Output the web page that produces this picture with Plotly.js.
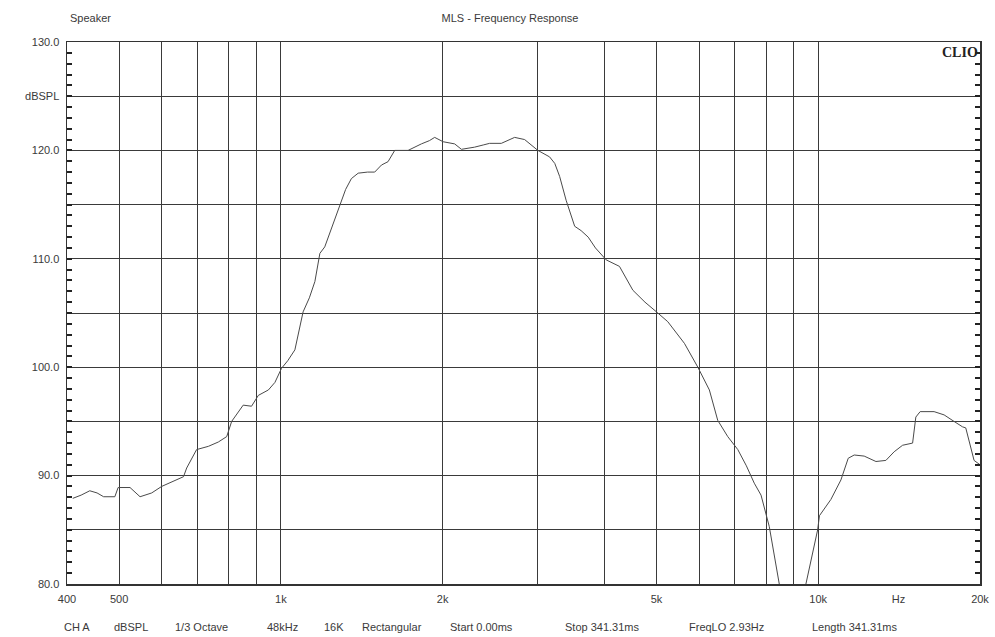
<!DOCTYPE html>
<html>
<head>
<meta charset="utf-8">
<script src="https://cdn.plot.ly/plotly-3.0.1.min.js"></script>
<style>html,body{margin:0;padding:0;background:#fff;}#chart{width:995px;height:637px;}</style>
</head>
<body>
<div id="chart"></div>
<script>
// Frequency (Hz) and level (dBSPL)
var freq = [410,425,441,455,468,491,498,524,547,575,600,626,659,668,697,733,765,793,810,851,882,908,948,975,1003,1030,1062,1100,1130,1157,1182,1207,1242,1287,1320,1353,1393,1450,1495,1539,1583,1629,1725,1826,1890,1933,2004,2106,2168,2230,2294,2380,2446,2572,2650,2723,2842,3008,3163,3234,3302,3395,3522,3620,3732,3850,4031,4267,4519,4760,5029,5248,5636,5970,6272,6501,6786,7085,7350,7603,7826,8108,8463,8800,9200,9486,9975,10052,10558,11021,11371,11667,12176,12806,13363,13845,14354,14983,15193,15476,16428,17150,17893,18555,18816,19498,20000];
var spl  = [87.9,88.2,88.6,88.4,88.05,88.05,88.9,88.9,88.05,88.4,89.0,89.4,89.9,90.7,92.4,92.7,93.1,93.6,95.0,96.5,96.4,97.4,97.9,98.6,99.9,100.6,101.6,105.1,106.4,107.9,110.5,111.1,112.8,115.0,116.4,117.4,117.9,118.0,118.0,118.65,118.96,120.0,120.0,120.6,120.9,121.2,120.8,120.6,120.1,120.2,120.3,120.5,120.65,120.65,120.9,121.2,121.0,120.0,119.4,118.8,117.6,115.4,113.0,112.6,112.0,111.0,109.9,109.3,107.1,106.0,105.0,104.2,102.2,100.0,97.9,95.1,93.6,92.4,90.9,89.3,88.2,85.3,80.0,76.0,76.0,80.0,85.0,86.3,87.8,89.6,91.6,91.9,91.8,91.3,91.4,92.2,92.8,93.0,95.4,95.9,95.9,95.6,95.0,94.5,94.4,91.4,91.0];

// Axis labels and grid positions
var xTickVals = [400,500,1000,2000,5000,10000,14100,20000];
var xTickText = ['400','500','1k','2k','5k','10k','Hz','20k'];
var xGridVals = [500,600,700,800,900,1000,2000,3000,4000,5000,6000,7000,8000,9000,10000];
var yTickVals = [80,85,90,95,100,105,110,115,120,125,130];
var yTickText = ['80.0','','90.0','','100.0','','110.0','','120.0','dBSPL','130.0'];
var yMinorVals = [81,82,83,84,86,87,88,89,91,92,93,94,96,97,98,99,101,102,103,104,106,107,108,109,111,112,113,114,116,117,118,119,121,122,123,124,126,127,128,129];
var yRange = [80,130];

var footerText = ['CH A','dBSPL','1/3 Octave','48kHz','16K','Rectangular','Start 0.00ms','Stop 341.31ms','FreqLO 2.93Hz','Length 341.31ms'];
var footerPx = [62,112,173,265,322,360,448,563,687,810];

var L = 67, R = 980, T = 42, B = 584;
var W = R - L, H = B - T;
var txtFont = {family:'Liberation Sans, Arial, sans-serif', size:11, color:'#3a3a3a'};

var annotations = [
  {text:'Speaker', xref:'paper', yref:'paper', x:(68-L)/W, y:(B-18)/H, xanchor:'left', yanchor:'middle', showarrow:false, font:txtFont},
  {text:'<b>CLIO</b>', xref:'paper', yref:'paper', x:1, y:1-1/H, xanchor:'right', yanchor:'top', showarrow:false, font:{family:'Liberation Serif, Times New Roman, serif', size:14, color:'#222'}}
];
for (var i = 0; i < footerText.length; i++) {
  annotations.push({text:footerText[i], xref:'paper', yref:'paper', x:(footerPx[i]-L)/W, y:(B-627)/H, xanchor:'left', yanchor:'middle', showarrow:false, font:txtFont});
}

var trace = {x:freq, y:spl, type:'scatter', mode:'lines', line:{color:'#4a4a4a', width:1}, hoverinfo:'skip'};

var layout = {
  width:995, height:637,
  margin:{l:L, r:995-R, t:T, b:637-B, pad:0},
  paper_bgcolor:'#fff', plot_bgcolor:'#fff',
  showlegend:false,
  title:{text:'MLS - Frequency Response', x:510/995, xref:'container', xanchor:'center', y:1-18/637, yref:'container', yanchor:'middle', font:txtFont},
  xaxis:{type:'log', range:[Math.log10(400), Math.log10(20000)], tickmode:'array', tickvals:xTickVals, ticktext:xTickText,
    showgrid:false, ticks:'', showline:true, linecolor:'#333', linewidth:1.5, mirror:true, zeroline:false,
    tickfont:txtFont, ticklabelstandoff:4,
    minor:{tickmode:'array', tickvals:xGridVals, showgrid:true, gridcolor:'#3a3a3a', gridwidth:1, ticks:''}},
  yaxis:{range:yRange, tickmode:'array', tickvals:yTickVals, ticktext:yTickText,
    showgrid:true, gridcolor:'#3a3a3a', gridwidth:1, ticks:'inside', ticklen:5, tickcolor:'#222', tickwidth:2,
    showline:true, linecolor:'#333', linewidth:1.5, mirror:'allticks', zeroline:false,
    tickfont:txtFont, ticklabelstandoff:4,
    minor:{tickmode:'array', tickvals:yMinorVals, ticks:'inside', ticklen:5, tickcolor:'#222', tickwidth:2, showgrid:false}},
  annotations:annotations
};

Plotly.newPlot('chart', [trace], layout, {staticPlot:true, displayModeBar:false});
</script>
</body>
</html>
